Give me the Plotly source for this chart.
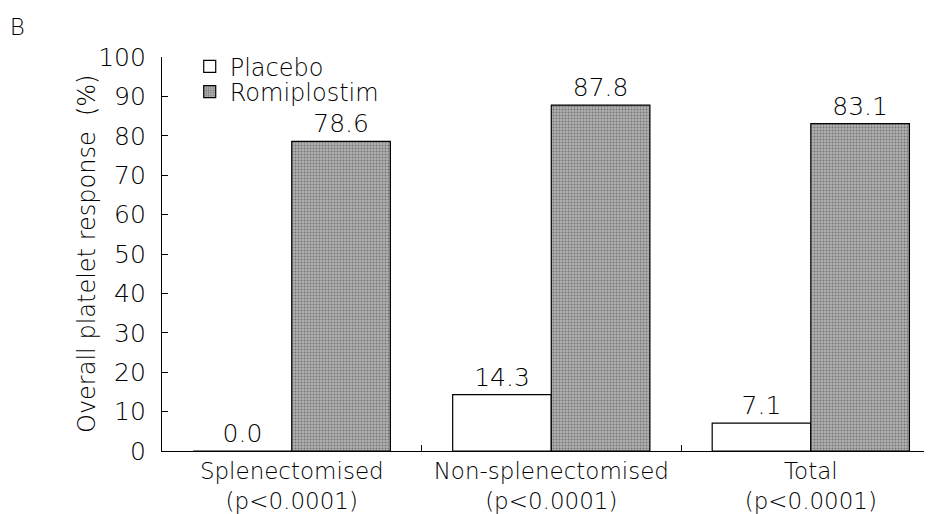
import plotly.graph_objects as go

categories = ["Splenectomised<br>(p<0.0001)", "Non-splenectomised<br>(p<0.0001)", "Total<br>(p<0.0001)"]
placebo = [0.0, 14.3, 7.1]
romiplostim = [78.6, 87.8, 83.1]
y_ticks = list(range(0, 101, 10))

FONT = "DejaVu Sans"
W = 300

fig = go.Figure()
fig.add_trace(go.Bar(
    name="Placebo", x=categories, y=placebo, legend="legend",
    text=[f"{v:.1f}" for v in placebo], textposition="outside",
    textfont=dict(size=25, color="black", family=FONT, weight=W),
    marker=dict(color="white", line=dict(color="black", width=1.2)),
    cliponaxis=False,
))
fig.add_trace(go.Bar(
    name="Romiplostim", x=categories, y=romiplostim, legend="legend2",
    text=[f"{v:.1f}" for v in romiplostim], textposition="outside",
    textfont=dict(size=25, color="black", family=FONT, weight=W),
    marker=dict(color="#9c9c9c", line=dict(color="black", width=1.2),
                pattern=dict(shape=".", fgcolor="#3c3c3c", bgcolor="#b0b0b0", size=3, solidity=0.35)),
    cliponaxis=False,
))

legend_common = dict(xanchor="left", yanchor="middle", bgcolor="rgba(0,0,0,0)",
                     font=dict(size=24, family=FONT, weight=W, color="black"))

PW = 770  # plot width in px
fig.update_layout(
    width=924, height=506,
    margin=dict(l=154, r=0, t=49, b=63, autoexpand=False),
    paper_bgcolor="white", plot_bgcolor="white",
    barmode="group", bargap=0.24, bargroupgap=0,
    font=dict(family=FONT, size=24, color="black", weight=W),
    title=dict(text="B", x=0.002, xref="container", xanchor="left",
               y=0.978, yref="container", yanchor="top",
               font=dict(size=23, family=FONT, color="black", weight=W)),
    showlegend=True,
    legend=dict(x=0.036, y=0.975, **legend_common),
    legend2=dict(x=0.036, y=0.911, **legend_common),
)
fig.update_xaxes(
    range=[-0.5, 2.467], showline=True, linecolor="black", linewidth=1.2,
    ticks="inside", tickson="boundaries", ticklen=6, tickcolor="black", ticklabelstandoff=-1,
    tickfont=dict(size=23, family=FONT, weight=W), showgrid=False, zeroline=False, automargin=False,
)
fig.update_yaxes(
    range=[0, 100], tickvals=y_ticks, showline=True, linecolor="black", linewidth=1.2,
    ticks="inside", ticklen=6, tickcolor="black", ticklabelstandoff=10,
    tickfont=dict(size=25, family=FONT, weight=W), showgrid=False, zeroline=False, automargin=False,
)
fig.add_annotation(text="Overall platelet response  (%)", xref="paper", yref="paper",
                   x=-75 / PW, y=0.5, xanchor="center", yanchor="middle", textangle=-90,
                   showarrow=False, font=dict(size=24, family=FONT, color="black", weight=W))

fig.write_html("out.html")
